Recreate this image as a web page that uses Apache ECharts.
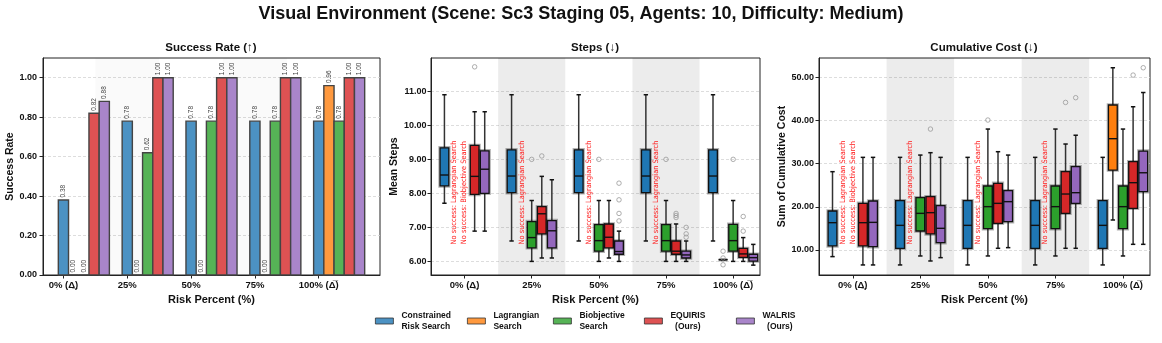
<!DOCTYPE html>
<html>
<head>
<meta charset="utf-8">
<script src="https://cdn.jsdelivr.net/npm/echarts@6/dist/echarts.min.js"></script>
<style>
html, body { margin: 0; padding: 0; background: #fff; }
#main { width: 1162px; height: 343px; }
</style>
</head>
<body>
<div id="main"></div>
<script>
// categories / methods
var riskLabels = ['0% (\u0394\u0332)', '25%', '50%', '75%', '100% (\u0394\u0305)'];
var methodNames = ['Constrained Risk Search', 'Lagrangian Search', 'Biobjective Search', 'EQUIRIS (Ours)', 'WALRIS (Ours)'];
var legendText = ['Constrained\nRisk Search', 'Lagrangian\nSearch', 'Biobjective\nSearch', 'EQUIRIS\n  (Ours)', 'WALRIS\n  (Ours)'];

// success rate per risk level
var successCRS = [0.38, 0.78, 0.78, 0.78, 0.78];
var successLag = [0.00, 0.00, 0.00, 0.00, 0.96];
var successBio = [0.00, 0.62, 0.78, 0.78, 0.78];
var successEqu = [0.82, 1.00, 1.00, 1.00, 1.00];
var successWal = [0.88, 1.00, 1.00, 1.00, 1.00];

// steps: [low whisker, q1, median, q3, high whisker], null = no success
var stepsCRS = [[7.71, 8.22, 8.54, 9.34, 10.90], [6.60, 8.02, 8.51, 9.28, 10.90], [6.60, 8.02, 8.51, 9.28, 10.90], [6.60, 8.02, 8.51, 9.28, 10.90], [6.60, 8.02, 8.51, 9.28, 10.90]];
var stepsLag = [null, null, null, null, [6.05, 6.05, 6.05, 6.05, 6.05]];
var stepsBio = [null, [6.00, 6.40, 6.70, 7.17, 7.79], [6.00, 6.30, 6.61, 7.08, 7.79], [6.00, 6.30, 6.61, 7.08, 7.79], [6.00, 6.30, 6.61, 7.09, 7.79]];
var stepsEqu = [[6.89, 7.97, 8.50, 9.41, 10.40], [6.10, 6.81, 7.40, 7.61, 8.50], [6.10, 6.40, 6.71, 7.10, 7.79], [6.00, 6.21, 6.30, 6.60, 7.10], [6.00, 6.12, 6.22, 6.38, 6.70]];
var stepsWal = [[6.89, 8.00, 8.71, 9.25, 10.40], [6.10, 6.40, 6.90, 7.20, 8.40], [6.00, 6.21, 6.29, 6.60, 6.89], [6.00, 6.10, 6.19, 6.30, 6.60], [5.89, 6.01, 6.11, 6.21, 6.50]];
// steps outliers: [risk index, value]
var stepsOutLag = [[4, 6.30], [4, 6.10], [4, 5.90]];
var stepsOutBio = [[1, 9.00], [2, 9.00], [3, 9.00], [4, 9.00]];
var stepsOutEqu = [[0, 11.72], [1, 9.10], [3, 7.41], [3, 7.35], [3, 7.29], [4, 7.32], [4, 6.89]];
var stepsOutWal = [[2, 8.30], [2, 7.81], [2, 7.41], [2, 7.19], [3, 7.00], [3, 6.81], [3, 6.71]];

// cumulative cost boxes
var costCRS = [[8.46, 10.93, 16.33, 19.03, 28.15], [6.53, 10.39, 15.71, 21.43, 31.47], [6.53, 10.39, 15.71, 21.43, 31.47], [6.53, 10.39, 15.71, 21.43, 31.47], [6.53, 10.39, 15.71, 21.43, 31.47]];
var costLag = [null, null, null, null, [16.95, 28.53, 35.80, 43.60, 52.24]];
var costBio = [null, [8.61, 14.40, 18.49, 22.12, 32.00], [8.61, 14.94, 20.04, 24.83, 38.03], [8.61, 14.94, 20.04, 24.83, 38.03], [8.61, 14.94, 20.04, 24.83, 38.03]];
var costEqu = [[6.53, 10.93, 16.33, 20.81, 31.47], [7.45, 13.71, 18.65, 22.36, 32.55], [10.39, 16.18, 20.81, 25.44, 32.78], [10.39, 18.49, 22.97, 28.15, 34.56], [11.31, 19.65, 25.60, 30.46, 43.20]];
var costWal = [[6.53, 10.77, 16.40, 21.35, 31.47], [8.22, 11.70, 15.02, 20.27, 31.47], [10.54, 16.56, 21.20, 23.75, 32.00], [10.39, 20.81, 23.28, 29.30, 36.60], [11.31, 23.51, 27.90, 32.93, 46.50]];
var costOutBio = [[2, 40.12]];
var costOutEqu = [[1, 38.03], [3, 44.20], [4, 50.54]];
var costOutWal = [[3, 45.30], [4, 52.24]];

// "no success" notes: [risk index, method index]
var noSuccess = [[0, 1], [0, 2], [1, 1], [2, 1], [3, 1]];

var barColors = ['#4c92c3', '#ff993e', '#56b356', '#de5253', '#a985ca'];
var boxColors = ['#1f77b4', '#ff7f0e', '#2ca02c', '#d62728', '#9467bd'];
var FONT = "'Liberation Sans', Arial, sans-serif";
var NARROW = "'Liberation Sans Narrow', 'DejaVu Sans Condensed', sans-serif";
var BAR_W = 0.16, BOX_OFF = 0.15, BOX_W = 0.13;

var chart = echarts.init(document.getElementById('main'));

function barItem(color) {
	return function (params, api) {
		var x = api.value(0), v = api.value(1);
		var p0 = api.coord([x - BAR_W / 2, v]);
		var p1 = api.coord([x + BAR_W / 2, 0]);
		return {
			type: 'group',
			children: [
				{ type: 'rect', shape: { x: p0[0], y: p0[1], width: p1[0] - p0[0], height: p1[1] - p0[1] }, style: { fill: color, stroke: '#444', lineWidth: 1.4 } },
				{ type: 'text', x: (p0[0] + p1[0]) / 2, y: p0[1] - 2.5, rotation: Math.PI / 2,
					style: { text: v.toFixed(2), fontSize: 6.5, fontFamily: FONT, fill: '#444', align: 'left', verticalAlign: 'middle' } }
			]
		};
	};
}

function boxItem(color) {
	return function (params, api) {
		var x = api.value(0);
		var lo = api.coord([x, api.value(1)]);
		var q1 = api.coord([x, api.value(2)]);
		var md = api.coord([x, api.value(3)]);
		var q3 = api.coord([x, api.value(4)]);
		var hi = api.coord([x, api.value(5)]);
		var l = api.coord([x - BOX_W / 2, 0])[0], r = api.coord([x + BOX_W / 2, 0])[0];
		var cl = api.coord([x - BOX_W / 4, 0])[0], cr = api.coord([x + BOX_W / 4, 0])[0];
		var ln = { stroke: '#333', lineWidth: 1.5 };
		return {
			type: 'group',
			children: [
				{ type: 'line', shape: { x1: lo[0], y1: lo[1], x2: lo[0], y2: q1[1] }, style: ln },
				{ type: 'line', shape: { x1: hi[0], y1: hi[1], x2: hi[0], y2: q3[1] }, style: ln },
				{ type: 'line', shape: { x1: cl, y1: lo[1], x2: cr, y2: lo[1] }, style: { stroke: '#111', lineWidth: 1.5 } },
				{ type: 'line', shape: { x1: cl, y1: hi[1], x2: cr, y2: hi[1] }, style: { stroke: '#111', lineWidth: 1.5 } },
				{ type: 'rect', shape: { x: l, y: q3[1], width: r - l, height: q1[1] - q3[1] }, style: { fill: 'none', stroke: 'rgba(0,0,0,0.3)', lineWidth: 3.5 } },
				{ type: 'rect', shape: { x: l, y: q3[1], width: r - l, height: q1[1] - q3[1] }, style: { fill: color, stroke: '#111', lineWidth: 1.3 } },
				{ type: 'line', shape: { x1: l, y1: md[1], x2: r, y2: md[1] }, style: { stroke: '#111', lineWidth: 1.4 } }
			]
		};
	};
}

function noteItem(params, api) {
	var x = api.coord([api.value(0), api.value(1)])[0];
	var m = noSuccess[params.dataIndex][1];
	return {
		type: 'text', x: x, y: params.coordSys.y + 0.62 * params.coordSys.height, rotation: Math.PI / 2,
		style: { text: 'No success: ' + methodNames[m], fontSize: 7.4, fontFamily: NARROW, fill: '#ff1a1a', align: 'center', verticalAlign: 'middle' }
	};
}

function xAxisFor(gi, min, max) {
	return {
		type: 'value', gridIndex: gi, min: min, max: max,
		name: 'Risk Percent (%)', nameLocation: 'middle', nameGap: 17,
		nameTextStyle: { fontWeight: 'bold', fontSize: 11, color: '#111', fontFamily: FONT },
		axisLine: { show: true, onZero: false, lineStyle: { color: '#222' } },
		axisTick: { show: true, length: 3.5, customValues: [0, 1, 2, 3, 4], lineStyle: { color: '#222' } },
		axisLabel: { customValues: [0, 1, 2, 3, 4], formatter: function (v) { return riskLabels[Math.round(v)]; },
			fontWeight: 'bold', fontSize: 9.5, color: '#111', fontFamily: FONT, margin: 5 },
		splitLine: { show: false }
	};
}

function yAxisFor(gi, min, max, ticks, name, gap, margin) {
	return {
		type: 'value', gridIndex: gi, min: min, max: max,
		name: name, nameLocation: 'middle', nameGap: gap,
		nameTextStyle: { fontWeight: 'bold', fontSize: 10.5, color: '#111', fontFamily: FONT },
		axisLine: { show: true, onZero: false, lineStyle: { color: '#222' } },
		axisTick: { show: true, length: 3.5, customValues: ticks, lineStyle: { color: '#222' } },
		axisLabel: { customValues: ticks, formatter: function (v) { return v.toFixed(2); },
			fontWeight: 'bold', fontSize: 9, color: '#111', fontFamily: FONT, margin: margin },
		splitLine: { show: true, lineStyle: { color: '#d4d4d4', width: 0.8, type: [3, 2] } }
	};
}

function bands(gi, color) {
	return {
		type: 'scatter', name: 'bands' + gi, xAxisIndex: gi, yAxisIndex: gi, data: [], silent: true,
		markArea: { silent: true, itemStyle: { color: color }, data: [[{ xAxis: 0.5 }, { xAxis: 1.5 }], [{ xAxis: 2.5 }, { xAxis: 3.5 }]] }
	};
}

var series = [bands(0, 'rgba(0,0,0,0.02)'), bands(1, 'rgba(0,0,0,0.075)'), bands(2, 'rgba(0,0,0,0.075)')];

// success rate bars
[successCRS, successLag, successBio, successEqu, successWal].forEach(function (arr, m) {
	series.push({
		type: 'custom', name: methodNames[m], xAxisIndex: 0, yAxisIndex: 0,
		itemStyle: { color: barColors[m] },
		encode: { x: 0, y: 1 },
		renderItem: barItem(barColors[m]),
		data: arr.map(function (v, i) { return [i + m * BAR_W, v]; })
	});
});

function boxSeries(gi, arrs, outs) {
	arrs.forEach(function (arr, m) {
		var data = [];
		arr.forEach(function (b, i) { if (b) data.push([i + (m - 2) * BOX_OFF].concat(b)); });
		series.push({
			type: 'custom', name: methodNames[m], xAxisIndex: gi, yAxisIndex: gi,
			itemStyle: { color: boxColors[m] },
			encode: { x: 0, y: [1, 2, 3, 4, 5] },
			renderItem: boxItem(boxColors[m]),
			data: data
		});
	});
	outs.forEach(function (arr, m) {
		if (!arr.length) return;
		series.push({
			type: 'scatter', name: 'out' + gi + '_' + m, xAxisIndex: gi, yAxisIndex: gi,
			symbol: 'circle', symbolSize: 4.5, silent: true,
			itemStyle: { color: 'rgba(255,255,255,0)', borderColor: '#9a9a9a', borderWidth: 1 },
			data: arr.map(function (p) { return [p[0] + (m - 2) * BOX_OFF, p[1]]; })
		});
	});
	series.push({
		type: 'custom', name: 'notes' + gi, xAxisIndex: gi, yAxisIndex: gi,
		encode: { x: 0, y: 1 }, renderItem: noteItem,
		data: noSuccess.map(function (p) { return [p[0] + (p[1] - 2) * BOX_OFF, gi === 1 ? 8 : 20]; })
	});
}

boxSeries(1, [stepsCRS, stepsLag, stepsBio, stepsEqu, stepsWal], [[], stepsOutLag, stepsOutBio, stepsOutEqu, stepsOutWal]);
boxSeries(2, [costCRS, costLag, costBio, costEqu, costWal], [[], [], costOutBio, costOutEqu, costOutWal]);

var legendLeft = [375, 467, 553, 644, 736];
var legends = methodNames.map(function (n, m) {
	return {
		data: [n], left: legendLeft[m], top: 310, padding: 0,
		icon: 'rect', itemWidth: 18, itemHeight: 6,
		itemStyle: { borderColor: '#333', borderWidth: 0.8 },
		formatter: function () { return legendText[m]; },
		textStyle: { fontWeight: 'bold', fontSize: 8.5, color: '#111', fontFamily: FONT, lineHeight: 11, padding: [0, 0, 0, 3] }
	};
});

var gridBase = { show: true, top: 58, bottom: 68, borderColor: '#222', borderWidth: 1, backgroundColor: '#fff' };
var subTitle = { fontSize: 11.5, fontWeight: 'bold', color: '#111', fontFamily: FONT };

var option = {
	animation: false,
	backgroundColor: '#fff',
	title: [
		{ text: 'Visual Environment (Scene: Sc3 Staging 05, Agents: 10, Difficulty: Medium)', left: 'center', top: 5, padding: 0,
			textStyle: { fontSize: 18, fontWeight: 'bold', color: '#111', fontFamily: FONT } },
		{ text: 'Success Rate (\u2191)', left: 211, top: 42, padding: 0, textAlign: 'center', textStyle: subTitle },
		{ text: 'Steps (\u2193)', left: 595, top: 42, padding: 0, textAlign: 'center', textStyle: subTitle },
		{ text: 'Cumulative Cost (\u2193)', left: 984, top: 42, padding: 0, textAlign: 'center', textStyle: subTitle }
	],
	legend: legends,
	grid: [
		Object.assign({}, gridBase, { left: 43, width: 337 }),
		Object.assign({}, gridBase, { left: 431, width: 329 }),
		Object.assign({}, gridBase, { left: 819, width: 331 })
	],
	xAxis: [xAxisFor(0, -0.32, 4.96), xAxisFor(1, -0.5, 4.4), xAxisFor(2, -0.5, 4.4)],
	yAxis: [
		yAxisFor(0, 0, 1.1, [0, 0.2, 0.4, 0.6, 0.8, 1.0], 'Success Rate', 26, 6),
		yAxisFor(1, 5.6, 11.98, [6, 7, 8, 9, 10, 11], 'Mean Steps', 31, 4.5),
		yAxisFor(2, 4.2, 54.5, [10, 20, 30, 40, 50], 'Sum of Cumulative Cost', 30, 5)
	],
	series: series
};
chart.setOption(option);
</script>
</body>
</html>
